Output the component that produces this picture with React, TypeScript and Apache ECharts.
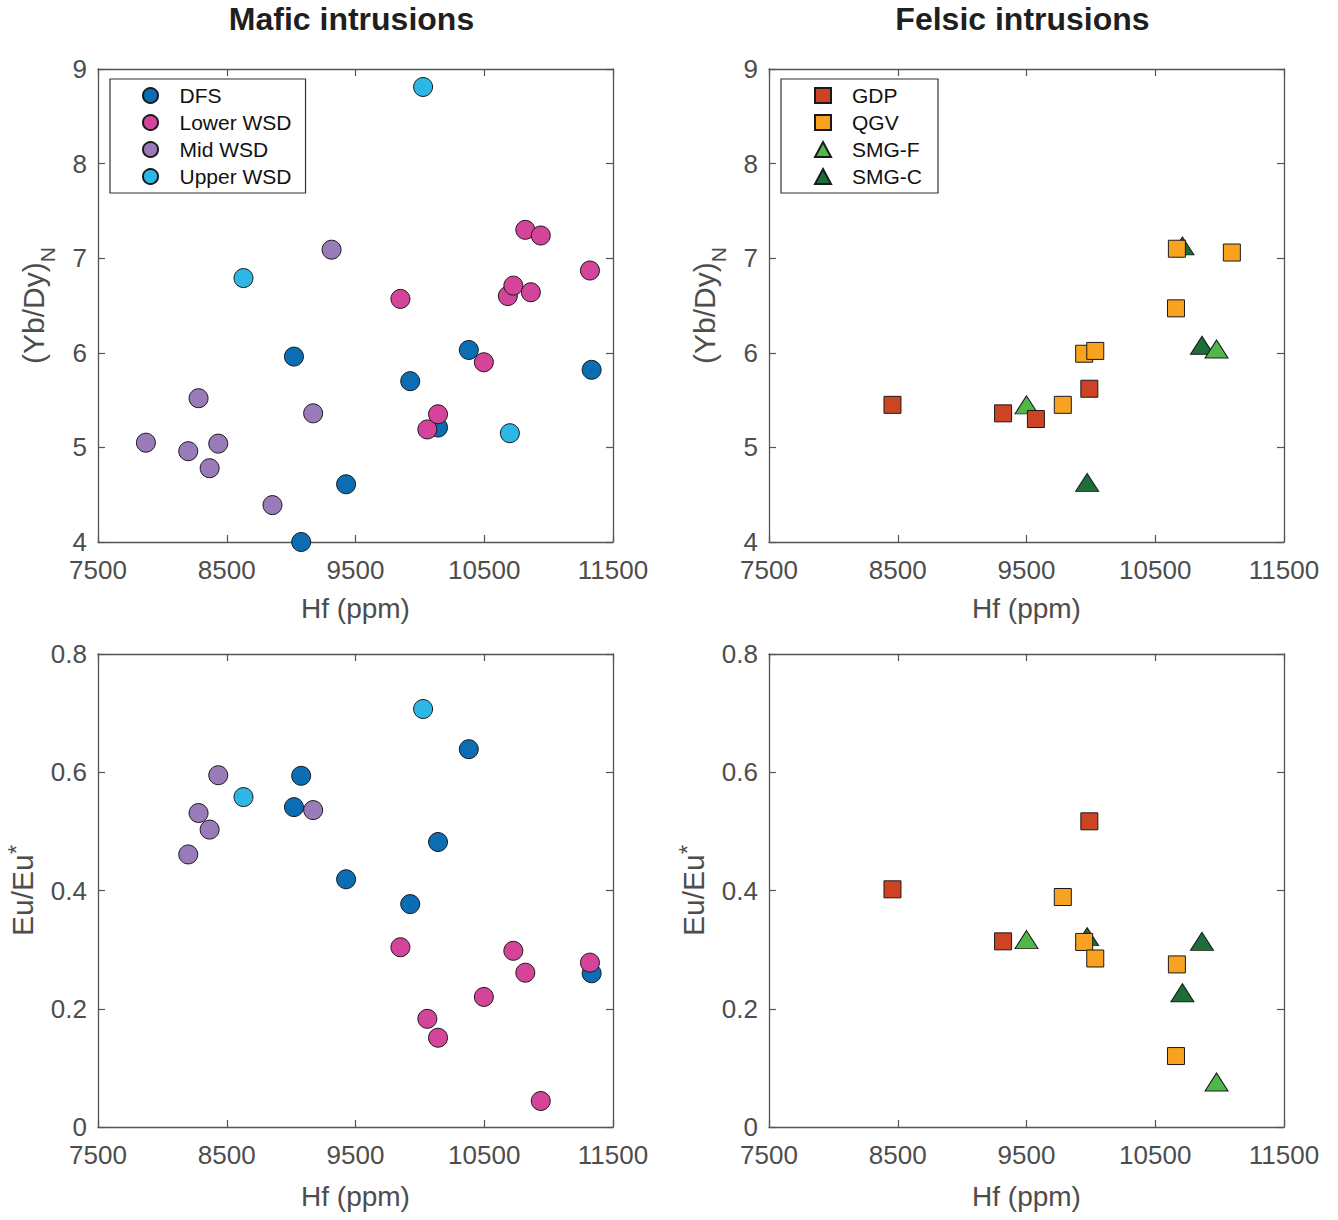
import React, { useEffect, useRef } from "react";
import * as echarts from "echarts";

// ---------- data ----------
// Mafic intrusions: Hf (ppm), (Yb/Dy)N, Eu/Eu* (null = not plotted)
const dfsHf = [9022, 9078, 9427, 9925, 10141, 10380, 11334];
const dfsYbDy = [5.96, 4.0, 4.61, 5.7, 5.21, 6.03, 5.82];
const dfsEu = [0.541, 0.594, 0.419, 0.377, 0.482, 0.639, 0.26];

const lowerHf = [9849, 10058, 10141, 10497, 10683, 10726, 10819, 10862, 10939, 11321];
const lowerYbDy = [6.57, 5.19, 5.35, 5.9, 6.6, 6.71, 7.3, 6.64, 7.24, 6.87];
const lowerEu = [0.304, 0.183, 0.151, 0.22, null, 0.298, 0.261, null, 0.044, 0.278];

const midHf = [7872, 8201, 8281, 8367, 8434, 8855, 9171, 9314];
const midYbDy = [5.05, 4.96, 5.52, 4.78, 5.04, 4.39, 5.36, 7.09];
const midEu = [null, 0.461, 0.531, 0.503, 0.595, null, 0.536, null];

const upperHf = [8630, 10025, 10699];
const upperYbDy = [6.79, 8.81, 5.15];
const upperEu = [0.558, 0.707, null];

// Felsic intrusions
const gdpHf = [8459, 9318, 9573, 9988];
const gdpYbDy = [5.45, 5.36, 5.3, 5.62];
const gdpEu = [0.402, 0.314, null, 0.517];

const qgvHf = [9782, 9948, 10034, 10661, 10668, 11095];
const qgvYbDy = [5.45, 5.99, 6.02, 6.47, 7.1, 7.06];
const qgvEu = [0.389, 0.313, 0.285, 0.12, 0.275, null];

const smgfHf = [9500, 10976];
const smgfYbDy = [5.45, 6.04];
const smgfEu = [0.317, 0.076];

const smgcHf = [9971, 10711, 10863];
const smgcYbDy = [4.63, 7.13, 6.08];
const smgcEu = [0.322, 0.227, 0.314];

// axes
const xTicks = [7500, 8500, 9500, 10500, 11500];
const ybdyRange = [4, 9];
const euRange = [0, 0.8];
const titles = ["Mafic intrusions", "Felsic intrusions"];
const maficNames = ["DFS", "Lower WSD", "Mid WSD", "Upper WSD"];
const felsicNames = ["GDP", "QGV", "SMG-F", "SMG-C"];

// ---------- styling ----------
const FONT = '"Liberation Sans", Arial, Helvetica, sans-serif';
const AXIS_COLOR = "#555555";
const LABEL_COLOR = "#4d4d4d";

const GRID_LEFT = [98, 769];
const GRID_W = 515;
const GRID_TOP = [69, 654];
const GRID_H = 473;

function pairs(xs: number[], ys: (number | null)[]) {
  const out: number[][] = [];
  xs.forEach((x, i) => {
    const y = ys[i];
    if (y !== null && y !== undefined) out.push([x, y]);
  });
  return out;
}

const groups = [
  { name: "DFS", col: 0, hf: dfsHf, yb: dfsYbDy, eu: dfsEu, color: "#0b6db4", symbol: "circle", size: 19, z: 2 },
  { name: "Lower WSD", col: 0, hf: lowerHf, yb: lowerYbDy, eu: lowerEu, color: "#d3449a", symbol: "circle", size: 19, z: 3 },
  { name: "Mid WSD", col: 0, hf: midHf, yb: midYbDy, eu: midEu, color: "#9a7bba", symbol: "circle", size: 19, z: 4 },
  { name: "Upper WSD", col: 0, hf: upperHf, yb: upperYbDy, eu: upperEu, color: "#2cb7e6", symbol: "circle", size: 19, z: 5 },
  { name: "GDP", col: 1, hf: gdpHf, yb: gdpYbDy, eu: gdpEu, color: "#cd4424", symbol: "rect", size: 17, z: 5 },
  { name: "QGV", col: 1, hf: qgvHf, yb: qgvYbDy, eu: qgvEu, color: "#f8a21f", symbol: "rect", size: 17, z: 5 },
  { name: "SMG-F", col: 1, hf: smgfHf, yb: smgfYbDy, eu: smgfEu, color: "#4fb849", symbol: "triangle", size: [23, 18], z: 3 },
  { name: "SMG-C", col: 1, hf: smgcHf, yb: smgcYbDy, eu: smgcEu, color: "#1c6d36", symbol: "triangle", size: [23, 18], z: 2 },
];

function buildOption() {
  const grid: any[] = [];
  const xAxis: any[] = [];
  const yAxis: any[] = [];
  // grid index = row*2 + col
  for (let row = 0; row < 2; row++) {
    for (let col = 0; col < 2; col++) {
      const gi = row * 2 + col;
      grid.push({ left: GRID_LEFT[col], top: GRID_TOP[row], width: GRID_W, height: GRID_H, containLabel: false });
      const lineStyle = { color: AXIS_COLOR, width: 1.3 };
      const tickBase = { inside: true, length: 7, lineStyle: { color: AXIS_COLOR, width: 1.2 } };
      // bottom x axis
      xAxis.push({
        type: "value",
        gridIndex: gi,
        position: "bottom",
        min: xTicks[0],
        max: xTicks[xTicks.length - 1],
        axisLine: { show: true, onZero: false, lineStyle },
        axisTick: { ...tickBase, customValues: xTicks },
        axisLabel: {
          customValues: xTicks,
          formatter: (v: number) => String(v),
          fontSize: 26,
          color: LABEL_COLOR,
          fontFamily: FONT,
          margin: 15,
        },
        splitLine: { show: false },
        name: "Hf (ppm)",
        nameLocation: "middle",
        nameGap: row === 0 ? 52 : 55,
        nameTextStyle: { fontSize: 28, color: LABEL_COLOR, fontFamily: FONT },
      });
      // top mirror x axis
      xAxis.push({
        type: "value",
        gridIndex: gi,
        position: "top",
        min: xTicks[0],
        max: xTicks[xTicks.length - 1],
        axisLine: { show: true, onZero: false, lineStyle },
        axisTick: { ...tickBase, customValues: xTicks },
        axisLabel: { show: false },
        splitLine: { show: false },
      });
      const range = row === 0 ? ybdyRange : euRange;
      const interval = row === 0 ? 1 : 0.2;
      yAxis.push({
        type: "value",
        gridIndex: gi,
        position: "left",
        min: range[0],
        max: range[1],
        interval,
        axisLine: { show: true, onZero: false, lineStyle },
        axisTick: { ...tickBase },
        axisLabel: { fontSize: 26, color: LABEL_COLOR, fontFamily: FONT, margin: 11 },
        splitLine: { show: false },
        name: row === 0 ? "{m|(Yb/Dy)}{s|N}" : "{m|Eu/Eu}{p|*}",
        nameLocation: "middle",
        nameGap: row === 0 ? 50 : 61,
        nameTextStyle: {
          fontSize: 30,
          color: LABEL_COLOR,
          fontFamily: FONT,
          rich: {
            m: { fontSize: 30, color: LABEL_COLOR, fontFamily: FONT, lineHeight: 32, verticalAlign: "bottom" },
            s: { fontSize: 21, color: LABEL_COLOR, fontFamily: FONT, lineHeight: 32, verticalAlign: "bottom", padding: [0, 0, -10, 0] },
            p: { fontSize: 24, color: LABEL_COLOR, fontFamily: FONT, lineHeight: 32, verticalAlign: "top", padding: [-1, 0, 0, 0] },
          },
        },
      });
      yAxis.push({
        type: "value",
        gridIndex: gi,
        position: "right",
        min: range[0],
        max: range[1],
        interval,
        axisLine: { show: true, onZero: false, lineStyle },
        axisTick: { ...tickBase },
        axisLabel: { show: false },
        splitLine: { show: false },
      });
    }
  }

  const series: any[] = [];
  groups.forEach((g) => {
    for (let row = 0; row < 2; row++) {
      const gi = row * 2 + g.col;
      series.push({
        type: "scatter",
        name: g.name,
        xAxisIndex: gi * 2,
        yAxisIndex: gi * 2,
        data: pairs(g.hf, row === 0 ? g.yb : g.eu),
        symbol: g.symbol,
        symbolSize: g.size,
        z: g.z,
        itemStyle: { color: g.color, borderColor: "#1a1a1a", borderWidth: 1, opacity: 1 },
        emphasis: { disabled: true },
      });
    }
  });

  const legendCommon = {
    orient: "vertical",
    top: 79,
    itemWidth: 16,
    itemHeight: 15,
    itemGap: 6,
    borderColor: "#333333",
    borderWidth: 1.2,
    borderRadius: 0,
    backgroundColor: "#ffffff",
    selectedMode: false,
    textStyle: { fontSize: 21, color: "#111111", fontFamily: FONT, padding: [0, 0, 0, 16], lineHeight: 21 },
  };

  return {
    animation: false,
    backgroundColor: "#ffffff",
    title: titles.map((t, i) => ({
      text: t,
      left: GRID_LEFT[i] + GRID_W / 2 - 4,
      top: 3,
      padding: 0,
      textAlign: "center",
      textStyle: { fontSize: 32, fontWeight: "bold", color: "#1f1f1f", fontFamily: FONT },
    })),
    legend: [
      { ...legendCommon, left: 110, data: maficNames, padding: [6, 14, 6, 32] },
      { ...legendCommon, left: 781, data: felsicNames, padding: [6, 16, 6, 33] },
    ],
    grid,
    xAxis,
    yAxis,
    series,
  };
}

export default function App() {
  const ref = useRef<HTMLDivElement>(null);
  useEffect(() => {
    if (!ref.current) return;
    const chart = echarts.init(ref.current, null, { renderer: "svg", width: 1338, height: 1220 });
    chart.setOption(buildOption() as any);
    return () => chart.dispose();
  }, []);
  return (
    <div
      ref={ref}
      style={{ position: "absolute", left: 0, top: 0, width: 1338, height: 1220, background: "#fff" }}
    />
  );
}
